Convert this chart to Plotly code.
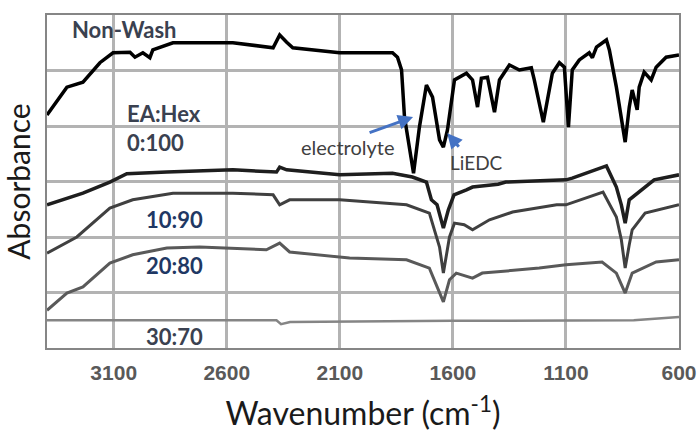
import plotly.graph_objects as go

# ---- data (absorbance in arbitrary offset units) ----
nonwash_wn = [3395, 3307, 3236, 3161, 3103, 3028, 3006, 2971, 2940, 2927, 2838, 2573, 2395, 2366, 2335, 2308,
              2101, 1867, 1845, 1827, 1814, 1792, 1774, 1748, 1717, 1690, 1659, 1642, 1624, 1593, 1540, 1513,
              1491, 1474, 1447, 1416, 1394, 1350, 1306, 1253, 1240, 1200, 1160, 1129, 1107, 1089, 1072, 1041,
              997, 983, 965, 921, 908, 877, 838, 820, 807, 785, 776, 754, 723, 701, 657, 600]
nonwash_ab = [4.20, 4.70, 4.79, 5.14, 5.32, 5.33, 5.24, 5.32, 5.23, 5.37, 5.50, 5.50, 5.41, 5.64, 5.51, 5.41,
              5.32, 5.32, 5.24, 5.01, 4.16, 3.57, 3.15, 3.98, 4.74, 4.52, 3.75, 3.62, 3.93, 4.83, 4.95, 4.83,
              4.34, 4.86, 4.88, 4.25, 4.83, 5.10, 5.01, 5.05, 4.83, 4.07, 4.95, 5.14, 5.06, 3.98, 5.01, 5.19,
              5.32, 5.23, 5.42, 5.55, 5.37, 4.70, 3.71, 4.34, 4.65, 4.29, 4.70, 4.97, 4.83, 5.06, 5.24, 5.28]

r0_100_wn = [3395, 3236, 3117, 3042, 2865, 2573, 2380, 2366, 2335, 2101, 1867, 1779, 1717, 1695, 1670, 1642,
             1620, 1595, 1540, 1513, 1400, 1366, 1100, 1072, 921, 877, 855, 838, 820, 785, 710, 600]
r0_100_ab = [2.58, 2.79, 2.99, 3.14, 3.17, 3.21, 3.17, 3.26, 3.21, 3.12, 3.15, 3.08, 2.99, 2.67, 2.58, 2.16,
             2.49, 2.76, 2.85, 2.90, 2.95, 2.99, 3.03, 3.06, 3.28, 2.90, 2.58, 2.25, 2.67, 2.79, 3.03, 3.12]

r10_90_wn = [3395, 3263, 3117, 3016, 2838, 2573, 2395, 2366, 2322, 2101, 1805, 1704, 1659, 1642, 1615, 1593,
             1550, 1513, 1438, 1336, 1141, 1100, 936, 877, 855, 838, 820, 807, 750, 600]
r10_90_ab = [1.71, 2.00, 2.52, 2.67, 2.79, 2.79, 2.76, 2.58, 2.67, 2.67, 2.58, 2.43, 1.82, 1.35, 2.00, 2.25,
             2.22, 2.13, 2.31, 2.45, 2.58, 2.58, 2.81, 2.36, 1.95, 1.44, 1.86, 2.13, 2.43, 2.58]

r20_80_wn = [3395, 3307, 3236, 3117, 3016, 2910, 2865, 2720, 2425, 2366, 2322, 2057, 1805, 1704, 1659, 1642,
             1615, 1585, 1513, 1470, 1218, 1100, 940, 877, 838, 807, 701, 600]
r20_80_ab = [0.68, 0.99, 1.10, 1.53, 1.68, 1.77, 1.80, 1.82, 1.77, 1.89, 1.73, 1.62, 1.59, 1.44, 0.99, 0.83,
             1.23, 1.35, 1.26, 1.35, 1.44, 1.50, 1.55, 1.35, 0.99, 1.35, 1.55, 1.59]

r30_70_wn = [3395, 2400, 2380, 2360, 2320, 1600, 1000, 800, 600]
r30_70_ab = [0.50, 0.50, 0.50, 0.43, 0.47, 0.49, 0.49, 0.50, 0.56]

x_ticks = [3100, 2600, 2100, 1600, 1100, 600]
y_grid = [1, 2, 3, 4, 5]

series = [
    ("Non-Wash", nonwash_wn, nonwash_ab, "#000000", 3.5),
    ("0:100", r0_100_wn, r0_100_ab, "#1e1e1e", 3.5),
    ("10:90", r10_90_wn, r10_90_ab, "#404040", 3),
    ("20:80", r20_80_wn, r20_80_ab, "#595959", 3),
    ("30:70", r30_70_wn, r30_70_ab, "#858585", 2.5),
]

fig = go.Figure()
for name, wn, ab, col, w in series:
    fig.add_trace(go.Scatter(x=wn, y=ab, mode="lines", name=name,
                             line=dict(color=col, width=w), showlegend=False))

lab_dark = "#3a4150"
lab_navy = "#1f3864"
texts = [
    ("Non-Wash", 3055, 5.73, lab_dark, "center", 22),
    ("EA:Hex", 3050, 4.23, lab_dark, "left", 22),
    ("0:100", 3050, 3.71, lab_dark, "left", 22),
    ("10:90", 2833, 2.32, lab_navy, "center", 22),
    ("20:80", 2833, 1.48, lab_navy, "center", 22),
    ("30:70", 2833, 0.20, lab_dark, "center", 22),
]
for t, x, y, c, xa, s in texts:
    fig.add_annotation(x=x, y=y, text=t, showarrow=False, xanchor=xa,
                       font=dict(family="Lato", size=s, weight="bold", color=c))

fig.add_annotation(x=2065, y=3.62, text="electrolyte", showarrow=False,
                   font=dict(family="Lato", size=20, color="#404040"))
fig.add_annotation(x=1497, y=3.35, text="LiEDC", showarrow=False,
                   font=dict(family="Lato", size=19, color="#404040"))
# arrows
fig.add_annotation(x=1776, y=4.16, ax=1975, ay=3.87, axref="x", ayref="y", xref="x", yref="y",
                   text="", showarrow=True, arrowhead=2, arrowsize=1, arrowwidth=3, arrowcolor="#4472c4")
fig.add_annotation(x=1625, y=3.87, ax=1568, ay=3.60, axref="x", ayref="y", xref="x", yref="y",
                   text="", showarrow=True, arrowhead=2, arrowsize=1, arrowwidth=3, arrowcolor="#4472c4")

fig.update_layout(
    width=697, height=432,
    margin=dict(l=47, r=18, t=15, b=84),
    paper_bgcolor="white", plot_bgcolor="white",
    font=dict(family="Lato"),
)
fig.update_xaxes(range=[3395, 600], tickvals=x_ticks, ticktext=[str(v) for v in x_ticks],
                 showgrid=True, gridcolor="#b3b3b3", gridwidth=2.5, layer="below traces",
                 showline=True, linecolor="#868686", linewidth=2, mirror=True,
                 ticks="", zeroline=False, automargin=False, ticklabelstandoff=5,
                 tickfont=dict(family="Liberation Sans", size=21, color="#595959", weight="bold"),
                 title=dict(text="Wavenumber (cm<sup>-1</sup>)", font=dict(family="Lato", size=32, color="#1a1a1a"),
                            standoff=22))
fig.update_yaxes(range=[0, 6], tickvals=y_grid, showticklabels=False,
                 showgrid=True, gridcolor="#b3b3b3", gridwidth=2.5, layer="below traces",
                 showline=True, linecolor="#868686", linewidth=2, mirror=True,
                 ticks="", zeroline=False, automargin=False,
                 title=dict(text="Absorbance", font=dict(family="Lato", size=30, color="#1a1a1a"),
                            standoff=6))

fig.write_html("out.html")
